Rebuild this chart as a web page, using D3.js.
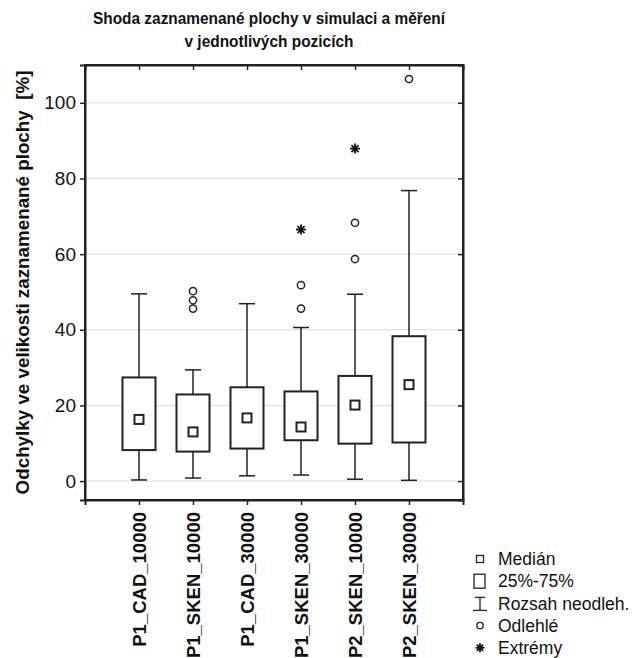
<!DOCTYPE html>
<html>
<head>
<meta charset="utf-8">
<script src="https://cdn.jsdelivr.net/npm/d3@7"></script>
<style>
  body { margin: 0; background: #fff; }
  text { font-family: "Liberation Sans", Arial, sans-serif; fill: #111; }
</style>
</head>
<body>
<div id="chart"></div>
<script>
const categories = ["P1_CAD_10000", "P1_SKEN_10000", "P1_CAD_30000", "P1_SKEN_30000", "P2_SKEN_10000", "P2_SKEN_30000"];
const whiskerLow = [0.3, 0.8, 1.4, 1.6, 0.5, 0.2];
const q1Values = [8.2, 7.8, 8.6, 10.8, 9.9, 10.2];
const medians = [16.3, 13.0, 16.7, 14.3, 20.1, 25.5];
const q3Values = [27.4, 22.9, 24.8, 23.7, 27.8, 38.3];
const whiskerHigh = [49.5, 29.4, 46.9, 40.6, 49.4, 76.8];
const outliers = [[], [45.6, 47.8, 50.2], [], [45.6, 51.8], [58.7, 68.3], [106.3]];
const extremes = [[], [], [], [66.5], [87.9], []];
const yTicks = [0, 20, 40, 60, 80, 100];
const legendLabels = ["Medián", "25%-75%", "Rozsah neodleh.", "Odlehlé", "Extrémy"];

const W = 644, H = 658;
const margin = { top: 65, right: 181, bottom: 158, left: 85 };
const iw = W - margin.left - margin.right;
const ih = H - margin.top - margin.bottom;

const svg = d3.select("#chart").append("svg")
  .attr("width", W)
  .attr("height", H);

// title (the original font is a bit condensed)
const title = svg.append("text")
  .attr("text-anchor", "middle")
  .attr("font-weight", "bold")
  .attr("font-size", 17);
title.append("tspan").attr("x", 269).attr("y", 24)
  .attr("textLength", 352).attr("lengthAdjust", "spacingAndGlyphs")
  .text("Shoda zaznamenané plochy v simulaci a měření");
title.append("tspan").attr("x", 269).attr("y", 47)
  .attr("textLength", 169).attr("lengthAdjust", "spacingAndGlyphs")
  .text("v jednotlivých pozicích");

const g = svg.append("g").attr("transform", `translate(${margin.left},${margin.top})`);

const x = d3.scalePoint().domain(categories).range([0, iw]).padding(1);
const y = d3.scaleLinear().domain([-5, 110]).range([ih, 0]);

// grid
g.selectAll(".grid")
  .data(yTicks)
  .enter()
  .append("line")
  .attr("x1", 0)
  .attr("x2", iw)
  .attr("y1", d => y(d))
  .attr("y2", d => y(d))
  .attr("stroke", "#dcdcdc")
  .attr("stroke-width", 1);

// axes
const yAxis = g.append("g")
  .call(d3.axisLeft(y).tickValues(yTicks).tickSize(5).tickPadding(4));
yAxis.selectAll("text").attr("font-size", 19).style("font-family", "'Liberation Sans', Arial, sans-serif");

g.append("g")
  .call(d3.axisRight(y).tickValues(yTicks).tickSize(-5).tickFormat(""))
  .attr("transform", `translate(${iw},0)`);

g.append("g")
  .call(d3.axisTop(x).tickSize(-5).tickFormat(""));

const xAxis = g.append("g")
  .attr("transform", `translate(0,${ih})`)
  .call(d3.axisBottom(x).tickSize(5).tickPadding(8));
xAxis.selectAll("text")
  .attr("font-size", 18.5)
  .attr("font-weight", "bold")
  .style("font-family", "'Liberation Sans', Arial, sans-serif")
  .attr("text-anchor", "end")
  .attr("transform", "rotate(-90)")
  .attr("x", -12)
  .attr("y", 0)
  .attr("dy", "0.35em");

g.selectAll(".domain").attr("stroke", "#222").attr("stroke-width", 2);
g.selectAll(".tick line").attr("stroke", "#222").attr("stroke-width", 1.5);

// frame
g.append("rect")
  .attr("width", iw)
  .attr("height", ih)
  .attr("fill", "none")
  .attr("stroke", "#222")
  .attr("stroke-width", 2);

// y title
svg.append("text")
  .attr("transform", `translate(22,${margin.top + ih / 2}) rotate(-90)`)
  .attr("text-anchor", "middle")
  .attr("dy", "0.35em")
  .attr("font-size", 18.8)
  .attr("font-weight", "bold")
  .style("white-space", "pre")
  .text("Odchylky ve velikosti zaznamenané plochy  [%]");

const boxW = 33, capW = 16, medS = 9;
const ink = "#222";

const boxes = g.selectAll(".box")
  .data(categories)
  .enter()
  .append("g")
  .attr("class", "box");

boxes.append("line")
  .attr("x1", d => x(d)).attr("x2", d => x(d))
  .attr("y1", (d, i) => y(whiskerHigh[i]))
  .attr("y2", (d, i) => y(q3Values[i]))
  .attr("stroke", ink).attr("stroke-width", 1.5);
boxes.append("line")
  .attr("x1", d => x(d)).attr("x2", d => x(d))
  .attr("y1", (d, i) => y(q1Values[i]))
  .attr("y2", (d, i) => y(whiskerLow[i]))
  .attr("stroke", ink).attr("stroke-width", 1.5);
[whiskerHigh, whiskerLow].forEach(arr => {
  boxes.append("line")
    .attr("x1", d => x(d) - capW / 2).attr("x2", d => x(d) + capW / 2)
    .attr("y1", (d, i) => y(arr[i]))
    .attr("y2", (d, i) => y(arr[i]))
    .attr("stroke", ink).attr("stroke-width", 1.5);
});

boxes.append("rect")
  .attr("x", d => x(d) - boxW / 2)
  .attr("width", boxW)
  .attr("y", (d, i) => y(q3Values[i]))
  .attr("height", (d, i) => y(q1Values[i]) - y(q3Values[i]))
  .attr("fill", "#fff")
  .attr("stroke", ink)
  .attr("stroke-width", 2);

boxes.append("rect")
  .attr("x", d => x(d) - medS / 2)
  .attr("width", medS)
  .attr("y", (d, i) => y(medians[i]) - medS / 2)
  .attr("height", medS)
  .attr("fill", "#fff")
  .attr("stroke", ink)
  .attr("stroke-width", 2);

// outliers
const outPts = categories.flatMap((c, i) => outliers[i].map(v => ({ c, v })));
g.selectAll(".out")
  .data(outPts)
  .enter()
  .append("circle")
  .attr("cx", d => x(d.c))
  .attr("cy", d => y(d.v))
  .attr("r", 3.6)
  .attr("fill", "#fff")
  .attr("stroke", ink)
  .attr("stroke-width", 1.5);

function star(sel, s) {
  const a = s * 0.7;
  sel.append("line").attr("x1", 0).attr("x2", 0).attr("y1", -s).attr("y2", s);
  sel.append("line").attr("x1", -s).attr("x2", s).attr("y1", 0).attr("y2", 0);
  sel.append("line").attr("x1", -a).attr("x2", a).attr("y1", -a).attr("y2", a);
  sel.append("line").attr("x1", -a).attr("x2", a).attr("y1", a).attr("y2", -a);
  sel.attr("stroke", "#111").attr("stroke-width", 1.8);
}

const extPts = categories.flatMap((c, i) => extremes[i].map(v => ({ c, v })));
g.selectAll(".ext")
  .data(extPts)
  .enter()
  .append("g")
  .attr("transform", d => `translate(${x(d.c)},${y(d.v)})`)
  .each(function () { star(d3.select(this), 5); });

// legend
const lg = svg.append("g").attr("transform", "translate(480,559)");
const step = 22.2;
legendLabels.forEach((lab, i) => {
  const row = lg.append("g").attr("transform", `translate(0,${i * step})`);
  if (i === 0) {
    row.append("rect").attr("x", -3.5).attr("y", -3.5).attr("width", 7).attr("height", 7)
      .attr("fill", "#fff").attr("stroke", ink).attr("stroke-width", 1.3);
  } else if (i === 1) {
    row.append("rect").attr("x", -6).attr("y", -7).attr("width", 11).attr("height", 14)
      .attr("fill", "#fff").attr("stroke", ink).attr("stroke-width", 1.3);
  } else if (i === 2) {
    row.append("path").attr("d", "M-5,-6H5M0,-6V7M-7,7H7")
      .attr("fill", "none").attr("stroke", ink).attr("stroke-width", 1.3);
  } else if (i === 3) {
    row.append("circle").attr("r", 3.2).attr("fill", "#fff").attr("stroke", ink).attr("stroke-width", 1.3);
  } else {
    star(row.append("g"), 4.5);
  }
  row.append("text")
    .attr("x", 18)
    .attr("dy", "0.35em")
    .attr("font-size", 17.5)
    .text(lab);
});
</script>
</body>
</html>
